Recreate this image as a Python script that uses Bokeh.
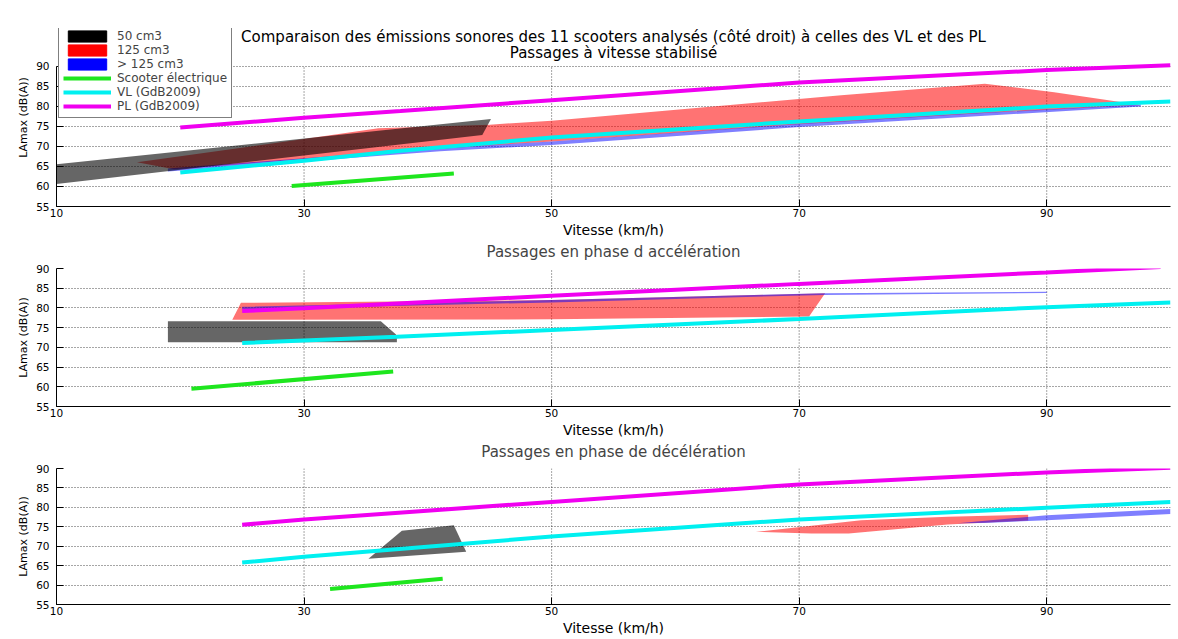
from bokeh.plotting import figure
from bokeh.layouts import column
from bokeh.models import Range1d, FixedTicker, Legend, LegendItem, Label, Title
from bokeh.embed import file_html
from bokeh.resources import INLINE

FONT = "DejaVu Sans"
NAN = float("nan")

# ---------------- texts / ticks ----------------
X_TICKS = [10, 30, 50, 70, 90]
Y_TICKS = [55, 60, 65, 70, 75, 80, 85, 90]
MAIN_TITLE = "Comparaison des émissions sonores des 11 scooters analysés (côté droit) à celles des VL et des PL"
PANEL_TITLES = ["Passages à vitesse stabilisé",
                "Passages en phase d accélération",
                "Passages en phase de décélération"]
X_LABEL = "Vitesse (km/h)"
Y_LABEL = "LAmax (dB(A))"
LEGEND_LABELS = ["50 cm3", "125 cm3", "> 125 cm3", "Scooter électrique", "VL (GdB2009)", "PL (GdB2009)"]

# ---------------- panel 1 : vitesse stabilisée ----------------
s_cm50_x = [10, 45.1, 44.4, 10]
s_cm50_y = [65.5, 76.8, 72.8, 60.6]
s_cm125_x = [16.5, 30, 36, 45, 50, 73.4, 85, 90.6, 97.6, 85, 70, 50, 41, 19.5]
s_cm125_y = [66.0, 71.8, 74.5, 75.4, 76.4, 82.7, 85.6, 83.5, 80.3, 78.3, 75.5, 71.2, 69.4, 64.3]
s_big_x = [19, 41, 50, 70, 85, 97.6, 97.6, 85, 70, 50, 41, 19]
s_big_y = [63.7, 68.8, 70.3, 74.8, 77.6, 79.9, 80.4, 78.4, 75.6, 71.2, 69.6, 64.5]
s_el_x = [29, 42.1]
s_el_y = [60.1, 63.2]
s_vl_x = [20, 30, 37.8, 50, 70, 90, 100]
s_vl_y = [63.5, 66.4, 68.9, 72.2, 76.2, 79.9, 81.2]
s_pl_x = [20, 30, 37.8, 50, 70, 90, 100]
s_pl_y = [74.7, 77.1, 78.8, 81.5, 85.9, 89.0, 90.2]

# ---------------- panel 2 : accélération ----------------
a_cm50_x = [19, 36.2, 37.5, 37.5, 19]
a_cm50_y = [76.6, 76.6, 73.1, 71.3, 71.3]
a_cm125_x = [24.2, 24.9, 50, 72.1, 70.8, 50]
a_cm125_y = [77.0, 81.3, 82.0, 83.7, 77.8, 77.1]
a_big_x = [25, 50, 72, 90, 90, 72, 50, 25]
a_big_y = [79.6, 81.4, 83.3, 83.8, 84.1, 83.7, 82.0, 80.3]
a_el_x = [20.9, 37.2]
a_el_y = [59.5, 63.9]
a_vl_x = [25, 37.5, 50, 70, 90, 100]
a_vl_y = [71.1, 72.7, 74.4, 77.2, 80.2, 81.4]
a_pl_x = [25, 30, 50, 70, 90, 99.2]
a_pl_y = [79.2, 79.9, 83.1, 86.1, 89.0, 90.4]

# ---------------- panel 3 : décélération ----------------
d_cm50_x = [35.2, 37.9, 42.1, 43.1]
d_cm50_y = [66.8, 74.0, 75.4, 68.6]
d_cm125_x = [66.5, 75, 82, 88.5, 88.5, 82, 74, 71]
d_cm125_y = [73.7, 76.7, 77.6, 78.1, 76.6, 75.6, 73.3, 73.3]
d_big_x = [82.8, 90, 100, 100, 90, 85]
d_big_y = [75.9, 78.0, 79.6, 78.3, 76.7, 76.0]
d_el_x = [32.1, 41.2]
d_el_y = [59.0, 61.6]
d_vl_x = [25, 30, 50, 70, 90, 100]
d_vl_y = [65.8, 67.3, 72.5, 76.9, 79.9, 81.4]
d_pl_x = [25, 30, 50, 70, 90, 100]
d_pl_y = [75.5, 76.9, 81.4, 85.9, 89.0, 90.2]

PANELS = [
    dict(cm50=(s_cm50_x, s_cm50_y), cm125=(s_cm125_x, s_cm125_y), big=(s_big_x, s_big_y),
         el=(s_el_x, s_el_y), vl=(s_vl_x, s_vl_y), pl=(s_pl_x, s_pl_y)),
    dict(cm50=(a_cm50_x, a_cm50_y), cm125=(a_cm125_x, a_cm125_y), big=(a_big_x, a_big_y),
         el=(a_el_x, a_el_y), vl=(a_vl_x, a_vl_y), pl=(a_pl_x, a_pl_y)),
    dict(cm50=(d_cm50_x, d_cm50_y), cm125=(d_cm125_x, d_cm125_y), big=(d_big_x, d_big_y),
         el=(d_el_x, d_el_y), vl=(d_vl_x, d_vl_y), pl=(d_pl_x, d_pl_y)),
]

C_50 = "black"
C_125 = "red"
C_BIG = "blue"
C_EL = "#1ee61e"
C_VL = "#00f0f0"
C_PL = "#f000f0"

# ---------------- layout (pixels) ----------------
WIDTH = 1176
HEIGHTS = [240, 200, 198]
TOPS = [28, 26, 25]
BOTTOMS = [32, 31, 31]
EXTRA = 38  # panel 1: frame extends 38 px above the 90 dB line (room for legend + titles)
P1_FRAME_H = HEIGHTS[0] - TOPS[0] - BOTTOMS[0]
P1_PLOT_H = P1_FRAME_H - EXTRA
P1_TOP = 90 + EXTRA * 35.0 / P1_PLOT_H


def px_to_val(px_above_90):
    return 90 + px_above_90 * 35.0 / P1_PLOT_H


figs = []
for i, d in enumerate(PANELS):
    ytop = P1_TOP if i == 0 else 90
    p = figure(width=WIDTH, height=HEIGHTS[i], x_range=Range1d(10, 100), y_range=Range1d(55, ytop),
               output_backend="svg", toolbar_location=None,
               min_border_left=56, min_border_right=WIDTH - 1170, min_border_top=TOPS[i],
               min_border_bottom=BOTTOMS[i])
    p.outline_line_color = None
    p.background_fill_color = "white"
    p.border_fill_color = "white"

    # axes
    for ax, ticks in ((p.xaxis, X_TICKS), (p.yaxis, Y_TICKS)):
        ax.ticker = FixedTicker(ticks=ticks)
        ax.major_tick_in = 7
        ax.major_tick_out = 0
        ax.minor_tick_line_color = None
        ax.axis_line_color = "black"
        ax.major_tick_line_color = "black"
        ax.major_label_text_font = FONT
        ax.major_label_text_font_size = "10.5px"
        ax.major_label_text_color = "black"
        ax.axis_label_text_font = FONT
        ax.axis_label_text_font_style = "normal"
        ax.axis_label_text_color = "black"
    p.yaxis.bounds = (55, 90)
    p.xaxis.axis_label = X_LABEL
    p.xaxis.axis_label_text_font_size = "14px"
    p.xaxis.major_label_standoff = 2
    p.xaxis.axis_label_standoff = 2
    p.yaxis.major_label_standoff = 7
    # y label as a side title so that it can be centred on the 55-90 span
    p.add_layout(Title(text=Y_LABEL, align="center", offset=(-EXTRA / 2 - 4 if i == 0 else -3),
                       standoff=7, text_font=FONT, text_font_size="11px",
                       text_font_style="normal", text_color="black"), "left")

    # grid (dotted, Matlab style)
    p.xgrid.visible = False
    p.ygrid.ticker = FixedTicker(ticks=Y_TICKS)
    p.ygrid.grid_line_color = "black"
    p.ygrid.grid_line_dash = "1 2"
    p.ygrid.grid_line_alpha = 0.7
    p.segment(x0=X_TICKS, y0=[55] * len(X_TICKS), x1=X_TICKS, y1=[90] * len(X_TICKS),
              line_color="black", line_dash="1 2", line_alpha=0.7, line_width=1)

    # data
    p.patch(d["cm125"][0], d["cm125"][1], fill_color=C_125, fill_alpha=0.55, line_color=None)
    p.patch(d["big"][0], d["big"][1], fill_color=C_BIG, fill_alpha=0.5, line_color=None)
    p.patch(d["cm50"][0], d["cm50"][1], fill_color=C_50, fill_alpha=0.6, line_color=None)
    p.line(d["el"][0], d["el"][1], line_color=C_EL, line_width=4)
    p.line(d["vl"][0], d["vl"][1], line_color=C_VL, line_width=4)
    p.line(d["pl"][0], d["pl"][1], line_color=C_PL, line_width=4)

    title_style = dict(text_font=FONT, text_font_size="15px", text_color="black",
                       text_align="center", text_baseline="middle")
    if i == 0:
        # titles drawn inside the (extended) frame of panel 1
        p.add_layout(Label(x=55, y=px_to_val(29), text=MAIN_TITLE, **title_style))
        p.add_layout(Label(x=55, y=px_to_val(13), text=PANEL_TITLES[0], **title_style))

        # legend-only renderers (NaN point: nothing drawn in the plot)
        r1 = p.patch([NAN], [NAN], fill_color=C_50, line_color=C_50)
        r2 = p.patch([NAN], [NAN], fill_color=C_125, line_color=C_125)
        r3 = p.patch([NAN], [NAN], fill_color=C_BIG, line_color=C_BIG)
        r4 = p.line([NAN], [NAN], line_color=C_EL, line_width=4)
        r5 = p.line([NAN], [NAN], line_color=C_VL, line_width=4)
        r6 = p.line([NAN], [NAN], line_color=C_PL, line_width=4)
        items = [LegendItem(label=lab, renderers=[r]) for lab, r in zip(LEGEND_LABELS, [r1, r2, r3, r4, r5, r6])]
        legend = Legend(items=items, location=(2, P1_PLOT_H - 54), border_line_color="black",
                        border_line_width=1, background_fill_color="white", background_fill_alpha=1,
                        label_text_font=FONT, label_text_font_size="12px",
                        glyph_width=48, glyph_height=14, label_height=14, label_standoff=6,
                        spacing=0, padding=4, margin=0)
        p.add_layout(legend, "center")
    else:
        p.title.text = PANEL_TITLES[i]
        p.title.align = "center"
        p.title.text_font = FONT
        p.title.text_font_size = "15px"
        p.title.text_font_style = "normal"
        p.title.standoff = 1
        # small blank spacer between the title and the frame
        p.add_layout(Title(text=" ", text_font_size="4px", standoff=0), "above")
    figs.append(p)

layout = column(*figs, spacing=0)
open("out.html", "w").write(file_html(layout, INLINE))
